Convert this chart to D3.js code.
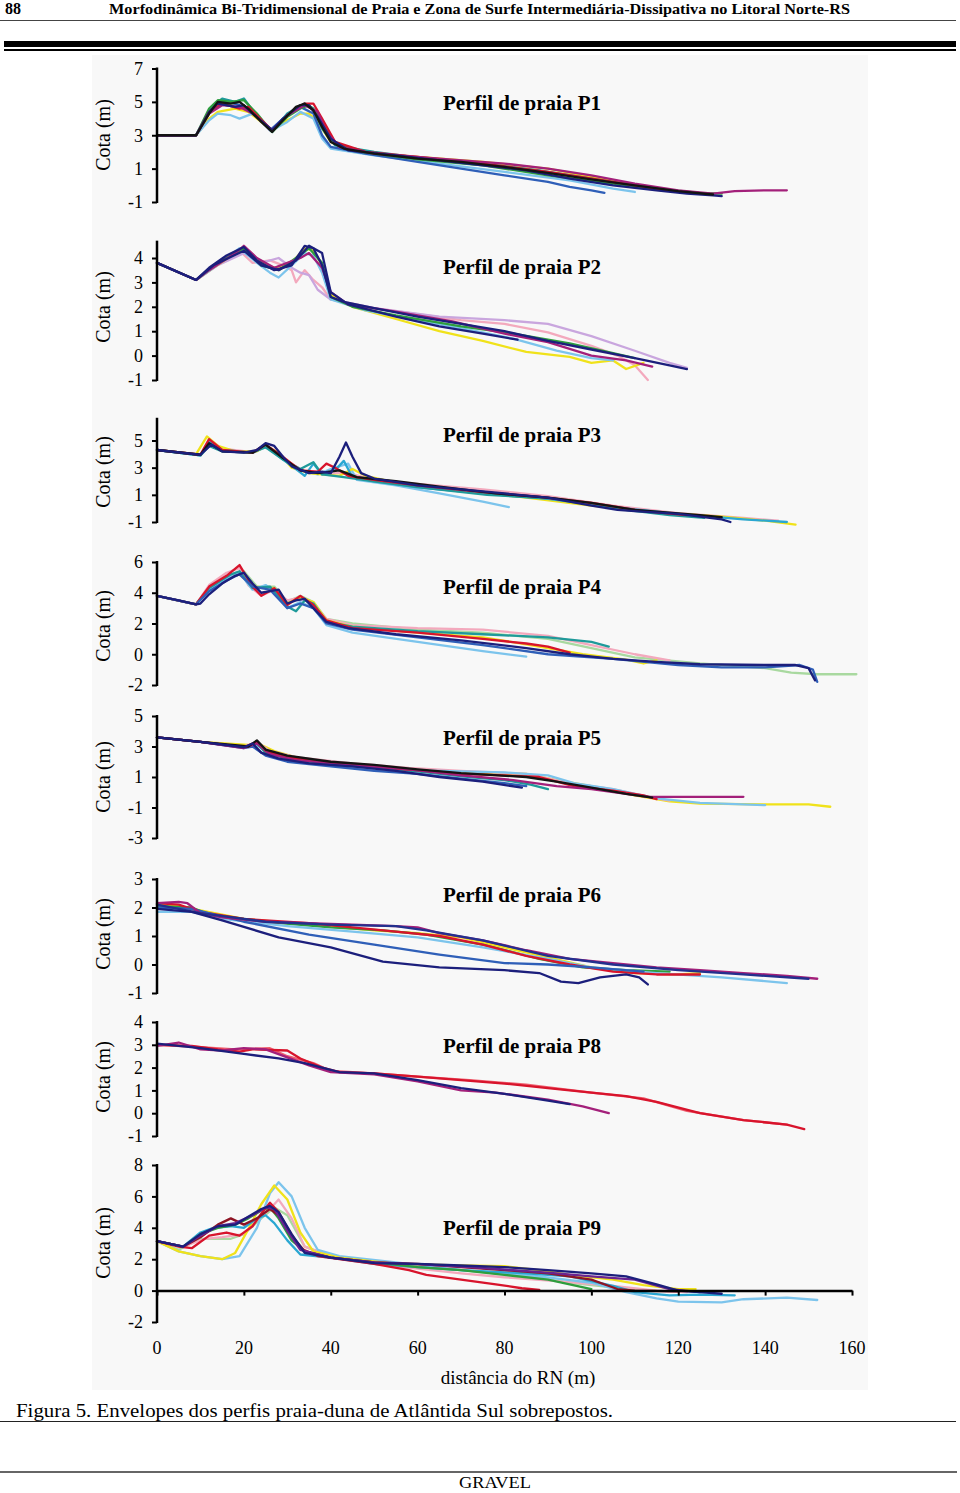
<!DOCTYPE html>
<html><head><meta charset="utf-8">
<script src="https://cdn.jsdelivr.net/npm/d3@7"></script>
<style>body{margin:0;background:#fff}svg{display:block}</style>
</head><body>
<svg id="c" width="960" height="1493"></svg>
<script>
// ---------- DATA (distance m, cota m) ----------
const xTicks = [0,20,40,60,80,100,120,140,160];
const pageTitle = "Morfodinâmica Bi-Tridimensional de Praia e Zona de Surfe Intermediária-Dissipativa no Litoral Norte-RS";
const caption = "Figura 5. Envelopes dos perfis praia-duna de Atlântida Sul sobrepostos.";

const p1Ticks=[-1,1,3,5,7];
const p1Yellow=[[0,3],[9,3],[12,4.0],[14,4.4],[18,4.6],[21,4.4],[26.5,3.3],[30,3.9],[33,4.3],[35,4.3],[37,3.8],[40,2.6],[45,2.0],[60,1.7],[75,1.4],[90,1.0],[100,0.5],[108,0.1],[116,-0.3]];
const p1LightBlue=[[0,3],[9,3],[12,3.9],[14,4.3],[17,4.2],[19,4.0],[22,4.3],[26.5,3.3],[30,3.8],[33,4.4],[36,4.0],[38,2.8],[40,2.2],[50,1.8],[65,1.3],[80,0.8],[95,0.3],[105,-0.2],[110,-0.4]];
const p1Blue=[[0,3],[9,3],[12,4.5],[15,5.1],[19,4.8],[22,4.4],[26,3.3],[29,4.0],[33,4.7],[36,4.3],[38,3.0],[40,2.3],[48,1.9],[60,1.4],[70,1.0],[80,0.6],[90,0.2],[95,-0.1],[100,-0.3],[103,-0.45]];
const p1Teal=[[0,3],[9,3],[13,4.8],[15,5.2],[18,5.0],[20,5.2],[22,4.5],[26.5,3.2],[30,4.3],[34,4.9],[36,4.6],[38,3.4],[41,2.4],[50,2.0],[62,1.6],[75,1.3],[88,0.9],[100,0.4],[112,-0.1],[122,-0.45],[126,-0.5]];
const p1Green=[[0,3],[9,3],[12,4.6],[14,5.1],[17,5.0],[20,5.1],[23,4.3],[26.5,3.2],[30,4.1],[33,4.6],[35,4.8],[37,4.3],[39,3.3],[41,2.5],[47,2.0],[60,1.55],[75,1.2],[90,0.6],[105,0.1],[115,-0.2],[125,-0.45],[130,-0.5]];
const p1Red=[[0,3],[9,3],[12,4.4],[15,4.9],[19,4.6],[21,4.7],[26.5,3.3],[30,4.2],[34,4.9],[36,4.9],[38,4.0],[41,2.6],[48,2.0],[60,1.7],[75,1.3],[90,0.8],[105,0.2],[115,-0.2],[122,-0.45]];
const p1Magenta=[[0,3],[9,3],[12,4.3],[15,4.8],[19,4.7],[22,4.3],[26.5,3.3],[30,4.2],[34,4.8],[37,4.4],[39,3.2],[42,2.3],[50,1.9],[65,1.6],[80,1.3],[90,1.0],[100,0.6],[110,0.1],[120,-0.3],[128,-0.5],[133,-0.35],[140,-0.3],[145,-0.3]];
const p1Navy=[[0,3],[9,3],[12,4.4],[14,4.9],[18,4.7],[20,4.8],[22,4.3],[26.5,3.3],[29,4.0],[33,4.8],[35,4.8],[37,4.1],[40,2.8],[44,2.1],[55,1.8],[65,1.5],[75,1.2],[85,0.9],[95,0.4],[105,0.0],[115,-0.3],[122,-0.5],[128,-0.6],[130,-0.65]];
const p1Black=[[0,3],[9,3],[12,4.3],[14,5.0],[17,4.9],[19,5.0],[21,4.6],[24,3.8],[26.5,3.2],[29,3.9],[32,4.7],[34,4.9],[36,4.5],[38,3.5],[40,2.6],[43,2.2],[50,1.9],[60,1.6],[70,1.4],[80,1.1],[90,0.75],[100,0.35],[110,0.0],[120,-0.35],[128,-0.55]];

const p2Ticks=[-1,0,1,2,3,4];
const p2Pink=[[0,3.8],[9,3.1],[13,3.6],[19,4.3],[22,3.8],[26,3.9],[29,3.7],[31,3.5],[32,3.0],[34,3.5],[36,3.1],[38,2.8],[40,2.3],[50,1.95],[60,1.7],[70,1.45],[80,1.3],[90,0.95],[100,0.4],[106,0.0],[110,-0.4],[113,-1.0]];
const p2Lavender=[[0,3.8],[9,3.1],[14,3.7],[20,4.2],[24,3.8],[28,4.0],[31,3.6],[33,3.4],[35,3.3],[37,2.7],[40,2.3],[50,1.95],[65,1.6],[80,1.45],[90,1.3],[100,0.8],[110,0.2],[118,-0.3],[122,-0.5]];
const p2Yellow=[[0,3.8],[9,3.1],[13,3.6],[18,4.2],[20,4.4],[23,3.9],[27,3.6],[31,3.8],[34,4.4],[36,4.3],[38,3.7],[40,2.5],[45,2.0],[55,1.5],[65,1.0],[75,0.6],[85,0.15],[95,-0.05],[100,-0.3],[105,-0.2],[108,-0.55],[112,-0.3]];
const p2LightBlue=[[0,3.8],[9,3.1],[13,3.6],[19,4.4],[23,3.8],[26,3.4],[28,3.2],[31,3.7],[34,4.2],[36,4.1],[38,3.4],[40,2.3],[48,1.85],[60,1.45],[72,1.05],[82,0.7],[92,0.2],[100,-0.1],[105,-0.2]];
const p2Green=[[0,3.8],[9,3.1],[14,3.8],[20,4.4],[24,3.7],[28,3.5],[32,4.0],[35,4.4],[38,3.8],[40,2.4],[45,2.0],[55,1.65],[70,1.2],[82,0.9],[95,0.5],[105,0.1],[110,-0.1]];
const p2Magenta=[[0,3.8],[9,3.1],[12,3.5],[18,4.2],[20,4.5],[23,4.0],[27,3.6],[30,3.8],[33,4.0],[35,4.2],[38,3.6],[40,2.6],[44,2.1],[55,1.8],[68,1.4],[80,0.9],[90,0.55],[100,0.0],[108,-0.2],[114,-0.45]];
const p2Navy2=[[0,3.8],[9,3.1],[13,3.7],[20,4.3],[24,3.7],[28,3.5],[32,3.9],[35,4.5],[38,4.2],[40,2.6],[44,2.1],[55,1.6],[65,1.2],[75,0.9],[83,0.65]];
const p2Navy=[[0,3.8],[9,3.1],[12,3.6],[16,4.1],[20,4.45],[23,3.9],[27,3.5],[31,3.7],[34,4.5],[36,4.4],[38,3.7],[40,2.4],[43,2.2],[50,1.95],[60,1.6],[70,1.3],[80,1.0],[90,0.6],[100,0.25],[110,-0.1],[118,-0.4],[122,-0.55]];

const p3Ticks=[-1,1,3,5];
const p3Pink=[[0,4.3],[10,3.95],[12,5.1],[15,4.4],[22,4.15],[25,4.7],[30,3.5],[34,2.7],[38,2.6],[44,2.6],[50,2.1],[60,1.8],[75,1.4],[90,0.9],[105,0.2],[120,-0.35],[135,-0.7],[143,-0.9]];
const p3LightBlue=[[0,4.3],[10,3.9],[12,5.0],[15,4.3],[22,4.1],[25,4.5],[29,3.7],[33,2.8],[37,2.5],[40,2.9],[44,3.3],[46,2.1],[55,1.7],[65,1.1],[75,0.5],[81,0.1]];
const p3Yellow=[[0,4.3],[9,4.0],[11.5,5.3],[14,4.6],[18,4.2],[23,4.2],[25,4.6],[28,4.1],[31,3.0],[35,2.6],[38,2.5],[42,2.4],[45,2.9],[48,2.4],[55,1.9],[70,1.3],[85,0.8],[100,0.2],[115,-0.3],[130,-0.6],[140,-0.9],[147,-1.2]];
const p3Cyan=[[0,4.3],[10,3.9],[12,4.9],[15,4.3],[22,4.1],[25,4.6],[29,3.6],[32,2.9],[34,2.4],[36,3.3],[38,2.5],[41,2.8],[43,3.5],[45,2.3],[50,2.0],[60,1.55],[75,1.1],[90,0.7],[105,0.1],[120,-0.4],[135,-0.8],[145,-1.0]];
const p3Teal=[[0,4.3],[10,3.9],[12,4.6],[15,4.2],[22,4.1],[25,4.5],[29,3.6],[33,2.9],[36,3.4],[38,2.5],[43,2.3],[50,2.0],[62,1.5],[76,1.0],[92,0.7],[105,0.0],[118,-0.5],[126,-0.7]];
const p3Red=[[0,4.3],[10,3.95],[12,5.1],[15,4.3],[22,4.1],[25,4.7],[29,3.8],[33,2.8],[37,2.7],[39,3.3],[41,3.0],[44,2.4],[50,2.1],[60,1.7],[75,1.2],[88,0.85],[100,0.4],[112,-0.2],[122,-0.5]];
const p3Black=[[0,4.3],[10,3.95],[12,4.8],[15,4.2],[22,4.1],[25,4.7],[29,3.7],[33,2.8],[37,2.6],[42,2.8],[46,2.3],[55,2.0],[65,1.6],[78,1.1],[90,0.8],[100,0.4],[110,-0.1],[125,-0.5],[130,-0.65]];
const p3Navy=[[0,4.3],[10,3.95],[12.5,4.7],[15,4.2],[20,4.1],[23,4.3],[25,4.8],[27,4.6],[29,3.8],[31,3.1],[35,2.6],[38,2.7],[40,2.6],[42,3.8],[43.5,4.85],[45,3.8],[47,2.6],[50,2.2],[60,1.7],[70,1.4],[80,1.1],[90,0.8],[100,0.2],[106,-0.1],[110,-0.2],[120,-0.4],[130,-0.8],[132,-1.0]];

const p4Ticks=[-2,0,2,4,6];
const p4LightGreen=[[0,3.8],[9,3.25],[12,4.4],[17,5.1],[20,5.4],[23,4.4],[27,4.4],[30,3.4],[33,3.8],[36,3.4],[39,2.3],[45,2.0],[60,1.6],[75,1.4],[90,1.0],[100,0.4],[110,-0.2],[125,-0.6],[140,-0.9],[146,-1.2],[152,-1.3],[161,-1.3]];
const p4Pink=[[0,3.8],[9,3.25],[12,4.5],[16,5.3],[19,5.6],[21,4.5],[24,3.8],[27,4.2],[30,3.5],[33,3.7],[36,3.3],[39,2.3],[45,1.9],[60,1.7],[75,1.6],[90,1.2],[100,0.6],[110,0.0],[118,-0.4]];
const p4Yellow=[[0,3.8],[9,3.25],[12,4.3],[17,5.0],[19,5.2],[22,4.4],[27,4.3],[30,3.3],[33,3.7],[36,3.4],[39,2.2],[45,1.8],[60,1.4],[75,1.1],[88,0.5],[98,0.0],[108,-0.35],[112,-0.6],[115,-0.4]];
const p4LightBlue=[[0,3.8],[9,3.25],[12,4.2],[16,4.9],[19,5.3],[22,4.2],[25,4.5],[28,3.9],[30,3.0],[33,3.4],[36,3.0],[39,1.9],[45,1.4],[60,0.8],[75,0.2],[85,-0.15]];
const p4Teal=[[0,3.8],[9,3.25],[12,4.3],[17,5.2],[19,5.4],[22,4.3],[26,4.4],[30,3.1],[32,2.8],[34,3.5],[36,3.3],[39,2.1],[45,1.8],[60,1.5],[75,1.3],[90,1.1],[100,0.8],[104,0.5]];
const p4Red=[[0,3.8],[9,3.25],[12,4.4],[16,5.1],[19,5.8],[22,4.4],[24,3.8],[27,4.3],[30,3.2],[33,3.8],[36,3.2],[39,2.2],[45,1.7],[60,1.4],[75,1.0],[85,0.7],[90,0.5],[95,0.1]];
const p4Blue=[[0,3.8],[9,3.25],[12,4.1],[16,4.8],[19,5.2],[22,4.4],[26,4.2],[30,3.0],[33,3.3],[36,3.0],[39,2.0],[45,1.6],[60,1.1],[75,0.6],[90,0.0],[105,-0.3],[120,-0.7],[130,-0.85],[140,-0.85],[148,-0.7],[151,-1.0],[152,-1.8]];
const p4Navy=[[0,3.8],[5,3.5],[9,3.25],[10,3.3],[12,3.9],[15,4.6],[18,5.1],[20,5.3],[22,4.6],[24,4.0],[26,4.1],[28,4.2],[30,3.3],[32,3.5],[34,3.6],[36,3.0],[39,2.1],[44,1.7],[55,1.3],[70,0.9],[85,0.4],[95,0.0],[105,-0.3],[115,-0.5],[125,-0.65],[140,-0.7],[147,-0.7],[150,-0.9],[151.5,-1.7]];

const p5Ticks=[-3,-1,1,3,5];
const p5Yellow=[[0,3.6],[10,3.3],[21,3.1],[24,3.1],[27,2.7],[33,2.2],[45,1.8],[58,1.5],[72,1.3],[85,1.2],[92,0.8],[100,0.4],[110,-0.2],[118,-0.6],[125,-0.75],[140,-0.8],[150,-0.8],[155,-0.95]];
const p5Pink=[[0,3.6],[10,3.3],[20,3.0],[23,3.3],[26,2.7],[32,2.3],[45,1.9],[58,1.6],[70,1.4],[85,1.2],[95,0.6],[105,0.2],[113,-0.3],[118,-0.55]];
const p5LightBlue=[[0,3.6],[10,3.3],[20,2.95],[23,3.1],[26,2.5],[32,2.0],[45,1.6],[55,1.4],[65,1.4],[80,1.3],[90,1.1],[96,0.6],[105,0.2],[115,-0.4],[125,-0.7],[140,-0.85]];
const p5Teal=[[0,3.6],[10,3.3],[20,2.95],[23,3.2],[25,2.6],[30,2.2],[40,1.8],[52,1.6],[62,1.3],[72,1.0],[80,0.8],[86,0.5],[90,0.2]];
const p5Blue=[[0,3.6],[10,3.3],[20,2.9],[22,3.0],[25,2.4],[30,2.0],[40,1.7],[50,1.4],[60,1.2],[70,0.9],[80,0.6],[85,0.4]];
const p5Red=[[0,3.6],[10,3.3],[20,2.95],[23,3.3],[25,2.7],[30,2.3],[40,1.9],[50,1.7],[57,1.5],[60,1.45],[70,1.2],[80,1.1],[88,1.0],[92,0.7],[96,0.4],[105,0.1],[112,-0.2],[115,-0.45]];
const p5Magenta=[[0,3.6],[10,3.3],[20,2.9],[23,3.2],[26,2.5],[32,2.1],[45,1.8],[58,1.5],[70,1.1],[82,0.8],[92,0.4],[100,0.2],[108,-0.1],[113,-0.3],[114.6,-0.3],[135,-0.3]];
const p5Black=[[0,3.6],[10,3.3],[21,3.0],[23,3.4],[25,2.8],[30,2.4],[40,2.0],[50,1.8],[60,1.5],[70,1.25],[85,1.0],[92,0.7],[100,0.3],[108,-0.1],[114,-0.35]];
const p5Navy=[[0,3.6],[10,3.3],[20,2.95],[22,3.2],[24,2.6],[28,2.2],[35,1.9],[45,1.7],[55,1.4],[65,1.0],[75,0.7],[84,0.3]];

const p6Ticks=[-1,0,1,2,3];
const p6Yellow=[[0,2.1],[5,2.05],[10,1.9],[20,1.6],[35,1.4],[50,1.2],[60,1.1],[70,0.95],[80,0.6],[90,0.25],[100,-0.1],[110,-0.3],[120,-0.35],[125,-0.3]];
const p6Green=[[0,2.05],[8,2.0],[12,1.75],[25,1.5],[40,1.3],[52,1.2],[62,1.05],[75,0.7],[88,0.2],[98,-0.1],[108,-0.2],[118,-0.25]];
const p6LightBlue=[[0,1.85],[8,1.85],[15,1.6],[30,1.35],[45,1.15],[60,0.95],[75,0.6],[90,0.2],[100,-0.1],[115,-0.3],[130,-0.45],[145,-0.65]];
const p6Red=[[0,2.15],[5,2.1],[10,1.85],[20,1.6],[35,1.45],[45,1.3],[55,1.15],[65,1.0],[75,0.7],[85,0.3],[95,0.0],[105,-0.25],[115,-0.35],[125,-0.35]];
const p6Blue=[[0,2.0],[8,1.95],[20,1.5],[35,1.05],[50,0.7],[65,0.35],[80,0.05],[90,0.0],[100,-0.1],[112,-0.25]];
const p6Magenta=[[0,2.15],[5,2.2],[7,2.15],[10,1.8],[15,1.65],[25,1.5],[35,1.45],[45,1.4],[55,1.35],[60,1.3],[65,1.1],[75,0.85],[85,0.5],[95,0.2],[105,0.05],[115,-0.1],[125,-0.2],[135,-0.3],[145,-0.4],[152,-0.5]];
const p6DarkBlue=[[0,2.1],[10,1.8],[25,1.5],[40,1.4],[55,1.35],[62,1.2],[75,0.85],[90,0.3],[105,0.0],[120,-0.2],[135,-0.35],[150,-0.5]];
const p6Navy=[[0,1.95],[8,1.85],[15,1.55],[28,0.95],[40,0.6],[52,0.1],[65,-0.1],[80,-0.2],[88,-0.3],[93,-0.6],[97,-0.65],[102,-0.45],[108,-0.35],[111,-0.45],[113,-0.7]];

const p8Ticks=[-1,0,1,2,3,4];
const p8Pink=[[0,3.0],[10,2.9],[18,2.8],[26,2.85],[30,2.5],[36,2.2],[40,1.85],[50,1.75],[60,1.6],[72,1.45],[85,1.25],[100,0.9],[112,0.65],[122,0.1],[135,-0.3],[145,-0.5]];
const p8Red=[[0,3.0],[8,2.95],[14,2.8],[19,2.7],[22,2.8],[30,2.75],[33,2.4],[38,2.0],[42,1.8],[50,1.75],[60,1.6],[70,1.45],[80,1.3],[90,1.1],[100,0.9],[108,0.75],[115,0.5],[125,0.0],[135,-0.3],[145,-0.5],[149,-0.7]];
const p8Magenta=[[0,2.95],[5,3.1],[10,2.8],[15,2.75],[20,2.85],[25,2.8],[30,2.45],[35,2.1],[40,1.8],[50,1.7],[60,1.4],[70,1.0],[78,0.9],[90,0.6],[98,0.3],[104,0.0]];
const p8Navy=[[0,3.05],[10,2.85],[20,2.6],[28,2.4],[34,2.2],[38,2.0],[42,1.8],[50,1.75],[60,1.45],[70,1.1],[80,0.85],[90,0.55],[95,0.4]];

const p9Ticks=[-2,0,2,4,6,8];
const p9LightGreen=[[0,3.15],[5,2.6],[10,3.3],[17,3.3],[20,3.6],[24,4.6],[27,5.3],[30,4.8],[34,2.8],[40,2.2],[55,1.6],[70,1.3],[85,0.9],[95,0.5],[105,0.2],[112,0.0]];
const p9Pink=[[0,3.15],[6,2.8],[11,3.3],[15,3.4],[20,3.6],[23,4.5],[26,5.2],[28,5.8],[31,4.6],[34,2.8],[40,2.2],[50,1.7],[60,1.4],[70,1.1],[80,0.85],[92,0.6],[105,0.3],[115,0.0],[122,-0.1]];
const p9LightBlue=[[0,3.15],[5,2.5],[10,2.2],[15,2.0],[19,2.2],[23,4.0],[26,6.2],[28,6.9],[31,6.0],[34,4.0],[37,2.6],[42,2.2],[55,1.8],[70,1.3],[85,1.0],[100,0.5],[108,-0.1],[115,-0.5],[120,-0.7],[130,-0.75],[135,-0.55],[145,-0.45],[152,-0.6]];
const p9Yellow=[[0,3.15],[5,2.5],[10,2.2],[15,2.0],[18,2.4],[21,3.9],[24,5.5],[27,6.7],[30,5.8],[33,3.7],[36,2.5],[42,2.1],[55,1.7],[70,1.6],[80,1.55],[88,1.3],[95,1.0],[105,0.7],[112,0.35],[120,0.1],[124,0.1]];
const p9Cyan=[[0,3.15],[6,2.8],[10,3.7],[13,4.0],[17,4.1],[20,4.0],[23,4.6],[25,4.8],[27,4.3],[30,3.2],[33,2.3],[40,2.1],[50,1.7],[60,1.5],[70,1.3],[85,1.1],[95,0.9],[105,0.3],[110,-0.1],[118,-0.3],[125,-0.25],[133,-0.3]];
const p9Green=[[0,3.15],[6,2.8],[10,3.6],[14,4.0],[18,4.2],[21,4.6],[24,5.1],[26,5.3],[28,4.6],[31,3.2],[34,2.5],[40,2.1],[50,1.8],[60,1.5],[70,1.3],[80,1.0],[90,0.7],[95,0.4],[100,0.1]];
const p9Red=[[0,3.15],[5,2.8],[8,2.7],[12,3.5],[16,3.7],[19,3.5],[22,4.1],[24,4.9],[26,5.6],[28,5.0],[30,4.0],[33,2.7],[37,2.2],[42,2.0],[50,1.7],[58,1.3],[62,1.0],[70,0.7],[78,0.4],[84,0.15],[88,0.05]];
const p9DarkRed=[[0,3.15],[6,2.8],[10,3.4],[14,4.2],[17,4.6],[20,4.2],[23,4.6],[26,5.2],[28,4.8],[31,3.5],[34,2.5],[40,2.1],[50,1.8],[60,1.7],[70,1.5],[80,1.3],[90,1.1],[100,0.7],[106,0.1],[110,0.0],[120,-0.05]];
const p9Purple=[[0,3.15],[6,2.8],[10,3.5],[14,4.1],[18,4.3],[22,4.8],[25,5.3],[27,5.2],[30,3.8],[33,2.6],[40,2.1],[50,1.8],[62,1.65],[72,1.5],[82,1.3],[92,1.1],[100,0.9],[110,0.7],[118,0.1],[125,-0.1]];
const p9Navy=[[0,3.15],[6,2.8],[10,3.6],[14,4.1],[18,4.2],[21,4.7],[24,5.2],[26,5.4],[28,5.0],[31,3.6],[34,2.4],[40,2.1],[50,1.75],[60,1.7],[70,1.6],[80,1.5],[90,1.3],[100,1.1],[108,0.9],[115,0.4],[120,0.0],[125,-0.1],[130,-0.2]];

// ---------- STYLE ----------
const C = {yellow:"#f0e21a", lightBlue:"#7cc4ec", blue:"#2f5fb8", teal:"#1f9a9a", green:"#2e9e3e",
  red:"#d8142c", magenta:"#a3207a", navy:"#1c1f7c", black:"#141414", pink:"#f3a9bd", lavender:"#c9a6de",
  cyan:"#2aa7d2", lightGreen:"#a9d9a0", darkRed:"#8e1424", purple:"#6a2390", darkBlue:"#23308e"};

const panels = [
 {title:"Perfil de praia P1", ticks:p1Ticks, dom:[-1,7], px:[202,68.5], top:7, titleY:103, cotaY:135,
  series:[[p1Yellow,C.yellow],[p1LightBlue,C.lightBlue],[p1Blue,C.blue],[p1Teal,C.teal],[p1Green,C.green],[p1Red,C.red],[p1Magenta,C.magenta],[p1Navy,C.navy],[p1Black,C.black]]},
 {title:"Perfil de praia P2", ticks:p2Ticks, dom:[-1,4], px:[380,258], top:4.67, titleY:267, cotaY:307,
  series:[[p2Pink,C.pink],[p2Lavender,C.lavender],[p2Yellow,C.yellow],[p2LightBlue,C.lightBlue],[p2Green,C.green],[p2Magenta,C.magenta],[p2Navy2,C.navy],[p2Navy,C.navy]]},
 {title:"Perfil de praia P3", ticks:p3Ticks, dom:[-1,5], px:[522,440.5], top:6.6, titleY:435, cotaY:472,
  series:[[p3Pink,C.pink],[p3LightBlue,C.lightBlue],[p3Yellow,C.yellow],[p3Cyan,C.cyan],[p3Teal,C.teal],[p3Red,C.red],[p3Black,C.black],[p3Navy,C.navy]]},
 {title:"Perfil de praia P4", ticks:p4Ticks, dom:[-2,6], px:[685,562], top:6, titleY:587, cotaY:626,
  series:[[p4LightGreen,C.lightGreen],[p4Pink,C.pink],[p4Yellow,C.yellow],[p4LightBlue,C.lightBlue],[p4Teal,C.teal],[p4Red,C.red],[p4Blue,C.blue],[p4Navy,C.navy]]},
 {title:"Perfil de praia P5", ticks:p5Ticks, dom:[-3,5], px:[838,716], top:5, titleY:738, cotaY:777,
  series:[[p5Yellow,C.yellow],[p5Pink,C.pink],[p5LightBlue,C.lightBlue],[p5Teal,C.teal],[p5Blue,C.blue],[p5Red,C.red],[p5Magenta,C.magenta],[p5Black,C.black],[p5Navy,C.navy]]},
 {title:"Perfil de praia P6", ticks:p6Ticks, dom:[-1,3], px:[993,879], top:3, titleY:895, cotaY:934,
  series:[[p6Yellow,C.yellow],[p6Green,C.green],[p6LightBlue,C.lightBlue],[p6Red,C.red],[p6Blue,C.blue],[p6Magenta,C.magenta],[p6DarkBlue,C.darkBlue],[p6Navy,C.navy]]},
 {title:"Perfil de praia P8", ticks:p8Ticks, dom:[-1,4], px:[1136,1022], top:4, titleY:1046, cotaY:1077,
  series:[[p8Pink,"#ef6070"],[p8Red,C.red],[p8Magenta,C.magenta],[p8Navy,C.navy]]},
 {title:"Perfil de praia P9", ticks:p9Ticks, dom:[-2,8], px:[1322,1165], top:8, titleY:1228, cotaY:1243, xaxis:true,
  series:[[p9LightGreen,C.lightGreen],[p9Pink,C.pink],[p9LightBlue,C.lightBlue],[p9Yellow,C.yellow],[p9Cyan,C.cyan],[p9Green,C.green],[p9Red,C.red],[p9DarkRed,C.darkRed],[p9Purple,C.purple],[p9Navy,C.navy]]}
];

const svg = d3.select("#c");
const serif = "'Liberation Serif','Times New Roman',serif";

// header
svg.append("text").attr("x",5).attr("y",14).attr("font-family",serif).attr("font-weight","bold")
  .attr("font-size",16).text("88");
svg.append("text").attr("x",109).attr("y",14).attr("font-family",serif).attr("font-weight","bold")
  .attr("font-size",15.5).attr("textLength",741).attr("lengthAdjust","spacingAndGlyphs").text(pageTitle);
svg.append("line").attr("x1",0).attr("x2",956).attr("y1",20.5).attr("y2",20.5).attr("stroke","#444").attr("stroke-width",1);
svg.append("rect").attr("x",4).attr("y",41).attr("width",952).attr("height",6).attr("fill","#000");
svg.append("line").attr("x1",4).attr("x2",956).attr("y1",50).attr("y2",50).attr("stroke","#000").attr("stroke-width",2);

// chart background
svg.append("rect").attr("x",92).attr("y",55).attr("width",776).attr("height",1335).attr("fill","#f8f8f8");

const x = d3.scaleLinear().domain([0,160]).range([157,852]);

panels.forEach(p=>{
  const y = d3.scaleLinear().domain(p.dom).range(p.px);
  const g = svg.append("g");
  const line = d3.line().x(d=>x(d[0])).y(d=>y(d[1]));
  p.series.forEach(([data,col])=>{
    g.append("path").attr("d",line(data)).attr("fill","none").attr("stroke",col)
      .attr("stroke-width",2.3).attr("stroke-linejoin","round").attr("stroke-linecap","round");
  });
  // y axis
  const ax = svg.append("g").attr("transform",`translate(${x(0)},0)`)
    .call(d3.axisLeft(y).tickValues(p.ticks).tickSize(5).tickSizeOuter(0).tickFormat(d=>String(d)));
  ax.select(".domain").remove();
  ax.append("line").attr("x1",0).attr("x2",0).attr("y1",y(p.dom[0])+1).attr("y2",y(p.top)-1)
    .attr("stroke","#000").attr("stroke-width",2.5);
  ax.selectAll(".tick line").attr("stroke","#000").attr("stroke-width",2);
  ax.selectAll(".tick text").attr("font-family",serif).attr("font-size",18).attr("fill","#000").attr("x",-14);
  // labels
  svg.append("text").attr("transform",`translate(110,${p.cotaY}) rotate(-90)`).attr("text-anchor","middle")
    .attr("font-family",serif).attr("font-size",20).text("Cota (m)");
  svg.append("text").attr("x",443).attr("y",p.titleY+7).attr("font-family",serif).attr("font-weight","bold")
    .attr("font-size",20).attr("textLength",158).attr("lengthAdjust","spacingAndGlyphs").text(p.title);
  if(p.xaxis){
    const xa = svg.append("g").attr("transform",`translate(0,${y(0)})`)
      .call(d3.axisBottom(x).tickValues(xTicks).tickSize(5).tickSizeOuter(0).tickFormat(""));
    xa.select(".domain").attr("stroke","#000").attr("stroke-width",2.5);
    xa.selectAll(".tick line").attr("stroke","#000").attr("stroke-width",2);
    const lab = svg.append("g");
    xTicks.forEach(t=>{
      lab.append("text").attr("x",x(t)).attr("y",1354).attr("text-anchor","middle")
        .attr("font-family",serif).attr("font-size",18).text(t);
    });
    svg.append("text").attr("x",518).attr("y",1384).attr("text-anchor","middle")
      .attr("font-family",serif).attr("font-size",19).text("distância do RN (m)");
  }
});

// caption & footer
svg.append("text").attr("x",16).attr("y",1417).attr("font-family",serif).attr("font-size",18.5)
  .attr("textLength",597).attr("lengthAdjust","spacingAndGlyphs").text(caption);
svg.append("line").attr("x1",0).attr("x2",956).attr("y1",1421.5).attr("y2",1421.5).attr("stroke","#222").attr("stroke-width",1);
svg.append("line").attr("x1",0).attr("x2",957).attr("y1",1472).attr("y2",1472).attr("stroke","#666").attr("stroke-width",2);
svg.append("text").attr("x",495).attr("y",1488).attr("text-anchor","middle").attr("font-family",serif)
  .attr("font-size",16).attr("textLength",72).attr("lengthAdjust","spacingAndGlyphs").text("GRAVEL");
</script>
</body></html>
